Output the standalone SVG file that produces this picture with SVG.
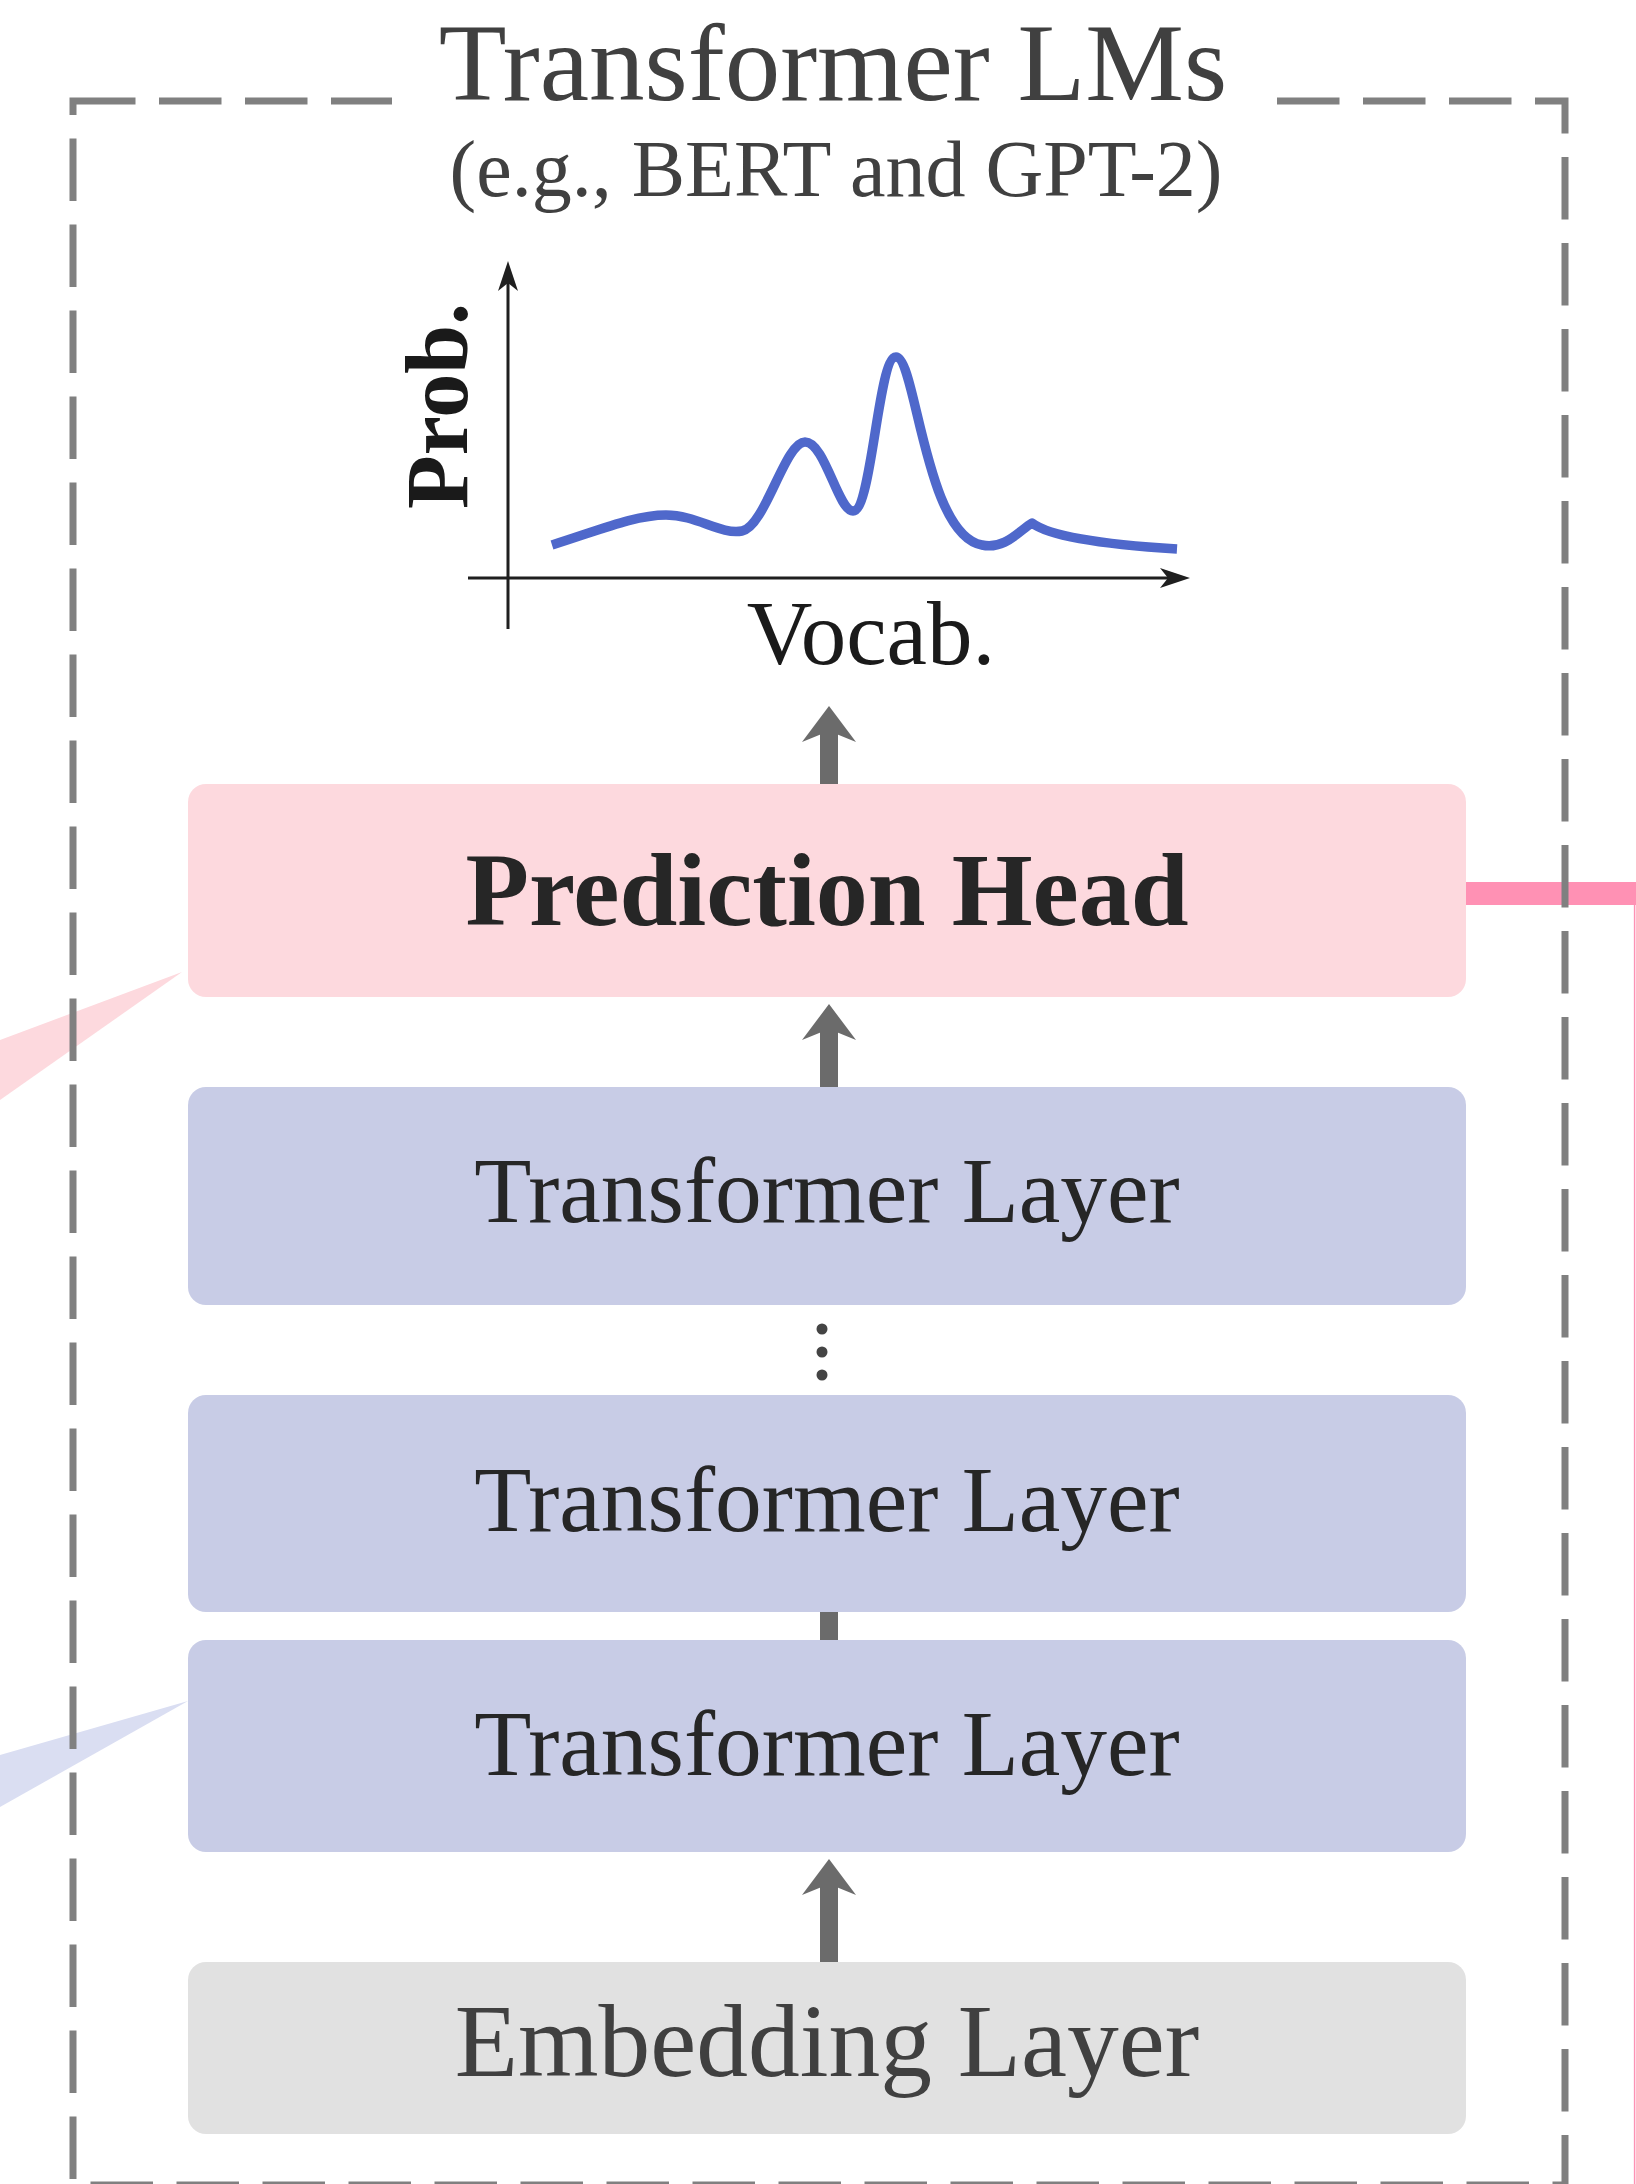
<svg xmlns="http://www.w3.org/2000/svg" xmlns:xlink="http://www.w3.org/1999/xlink" width="1636" height="2184" viewBox="0 0 1636 2184">
<style>
.serif{font-family:"Liberation Serif","Times New Roman",serif;}
.title{fill:#404040;text-anchor:middle;}
.layer{fill:#262626;text-anchor:middle;font-size:93.5px;}
.tl{fill:#c8cce6;}
.conn{fill:#6b6b6b;}
.axis{stroke:#1f1f1f;stroke-width:3;fill:none;}
</style>
<defs>
<path id="bigHead" d="M0,0 L27,36 L0,25 L-27,36 Z"/>
<path id="axHead" d="M0,0 L10,30 L0,22 L-10,30 Z"/>
</defs>
<rect width="1636" height="2184" fill="#ffffff"/>

<!-- callout wedges -->
<g id="callouts">
<polygon points="182,972 0,1040 0,1100" fill="#fdd9de"/>
<polygon points="188,1701 0,1755 0,1807" fill="#dadef2"/>
</g>

<!-- pink link to the right -->
<g id="link">
<rect x="1466" y="882" width="170" height="23" fill="#ff91b4"/>
<line x1="1634.6" y1="905" x2="1634.6" y2="2184" stroke="#ff91b4" stroke-width="1.5"/>
</g>

<!-- dashed frame -->
<g id="frame">
<rect x="73" y="101" width="1492" height="2084" fill="none" stroke="#808080" stroke-width="7" stroke-dasharray="62.5 23.5"/>
<rect x="392" y="55" width="884" height="95" fill="#ffffff"/>
<text class="serif title" x="833" y="100" font-size="111">Transformer LMs</text>
<text class="serif title" x="836" y="196" font-size="80">(e.g., BERT and GPT-2)</text>
</g>

<!-- distribution chart -->
<g id="chart">
<line class="axis" x1="508" y1="629" x2="508" y2="280"/>
<use href="#axHead" xlink:href="#axHead" transform="translate(508,261)" fill="#1f1f1f"/>
<line class="axis" x1="468" y1="578" x2="1172" y2="578"/>
<use href="#axHead" xlink:href="#axHead" transform="translate(1190,578) rotate(90)" fill="#1f1f1f"/>
<path d="M552,545 C600,530 635,515 666,515 C697,515 720,535 742,531 C765,527 785,442 805,442 C825,442 838,511 853,511 C872,511 878,357 896,357 C916,357 925,535 982,545 C1005,550 1020,530 1032,523 C1045,533 1080,543 1177,549" fill="none" stroke="#4f68cb" stroke-width="9.5" stroke-linejoin="round"/>
<text class="serif" x="871" y="664" font-size="91" fill="#1a1a1a" text-anchor="middle">Vocab.</text>
<text class="serif" transform="translate(467,406) rotate(-90)" font-size="88" font-weight="bold" fill="#1a1a1a" text-anchor="middle">Prob.</text>
</g>

<!-- connectors -->
<g id="connectors" class="conn">
<g transform="translate(829,706)"><use href="#bigHead" xlink:href="#bigHead"/><rect x="-9" y="24" width="18" height="54"/></g>
<g transform="translate(829,1004)"><use href="#bigHead" xlink:href="#bigHead"/><rect x="-9" y="24" width="18" height="59"/></g>
<rect x="820" y="1610" width="18" height="32"/>
<g transform="translate(829,1859)"><use href="#bigHead" xlink:href="#bigHead"/><rect x="-9" y="24" width="18" height="79"/></g>
<circle cx="822" cy="1329" r="5.5" fill="#444444"/>
<circle cx="822" cy="1352" r="5.5" fill="#444444"/>
<circle cx="822" cy="1375" r="5.5" fill="#444444"/>
</g>

<!-- nodes -->
<g id="prediction-head">
<rect x="188" y="784" width="1278" height="213" rx="18" fill="#fdd9de"/>
<text class="serif" x="827" y="925" font-size="104" font-weight="bold" fill="#262626" text-anchor="middle">Prediction Head</text>
</g>
<g id="transformer-layer-top">
<rect class="tl" x="188" y="1087" width="1278" height="218" rx="18"/>
<text class="serif layer" x="827" y="1222">Transformer Layer</text>
</g>
<g id="transformer-layer-mid">
<rect class="tl" x="188" y="1395" width="1278" height="217" rx="18"/>
<text class="serif layer" x="827" y="1531">Transformer Layer</text>
</g>
<g id="transformer-layer-bottom">
<rect class="tl" x="188" y="1640" width="1278" height="212" rx="18"/>
<text class="serif layer" x="827" y="1775">Transformer Layer</text>
</g>
<g id="embedding-layer">
<rect x="188" y="1962" width="1278" height="172" rx="18" fill="#e1e1e1"/>
<text class="serif" x="827" y="2076" font-size="103.5" fill="#404040" text-anchor="middle">Embedding Layer</text>
</g>
</svg>
